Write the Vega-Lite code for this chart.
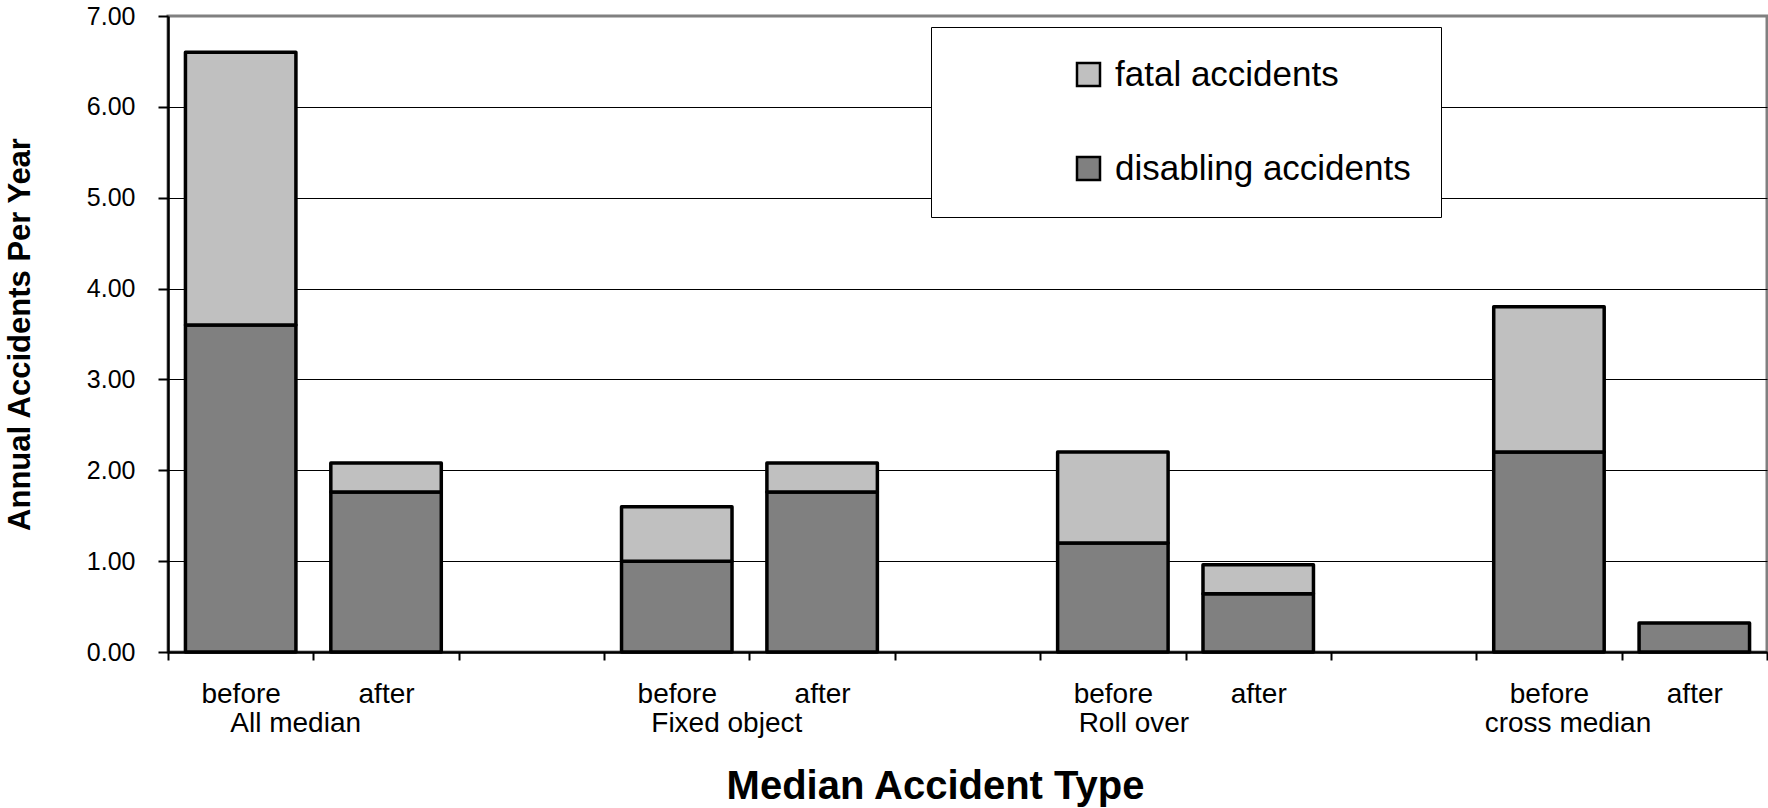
{
  "$schema": "https://vega.github.io/schema/vega-lite/v6.json",
  "width": 1599,
  "height": 636,
  "autosize": {"type": "none"},
  "padding": {"left": 168, "top": 16, "right": 1, "bottom": 156},
  "background": "white",
  "config": {
    "font": "Liberation Sans",
    "view": {"stroke": "#808080", "strokeWidth": 3},
    "axis": {
      "labelFont": "Liberation Sans",
      "titleFont": "Liberation Sans",
      "labelColor": "black",
      "titleColor": "black",
      "domainColor": "black",
      "tickColor": "black"
    }
  },
  "datasets": {
    "bars": [
      {"slot": "All median|before", "group": "All median", "period": "before", "type": "disabling accidents", "value": 3.6},
      {"slot": "All median|before", "group": "All median", "period": "before", "type": "fatal accidents", "value": 3.0},
      {"slot": "All median|after", "group": "All median", "period": "after", "type": "disabling accidents", "value": 1.76},
      {"slot": "All median|after", "group": "All median", "period": "after", "type": "fatal accidents", "value": 0.32},
      {"slot": "Fixed object|before", "group": "Fixed object", "period": "before", "type": "disabling accidents", "value": 1.0},
      {"slot": "Fixed object|before", "group": "Fixed object", "period": "before", "type": "fatal accidents", "value": 0.6},
      {"slot": "Fixed object|after", "group": "Fixed object", "period": "after", "type": "disabling accidents", "value": 1.76},
      {"slot": "Fixed object|after", "group": "Fixed object", "period": "after", "type": "fatal accidents", "value": 0.32},
      {"slot": "Roll over|before", "group": "Roll over", "period": "before", "type": "disabling accidents", "value": 1.2},
      {"slot": "Roll over|before", "group": "Roll over", "period": "before", "type": "fatal accidents", "value": 1.0},
      {"slot": "Roll over|after", "group": "Roll over", "period": "after", "type": "disabling accidents", "value": 0.64},
      {"slot": "Roll over|after", "group": "Roll over", "period": "after", "type": "fatal accidents", "value": 0.32},
      {"slot": "cross median|before", "group": "cross median", "period": "before", "type": "disabling accidents", "value": 2.2},
      {"slot": "cross median|before", "group": "cross median", "period": "before", "type": "fatal accidents", "value": 1.6},
      {"slot": "cross median|after", "group": "cross median", "period": "after", "type": "disabling accidents", "value": 0.32}
    ],
    "labels": [
      {"slot": "All median|before", "name": "All median"},
      {"slot": "Fixed object|before", "name": "Fixed object"},
      {"slot": "Roll over|before", "name": "Roll over"},
      {"slot": "cross median|before", "name": "cross median"}
    ]
  },
  "encoding": {
    "x": {
      "field": "slot",
      "type": "ordinal",
      "scale": {
        "domain": ["All median|before", "All median|after", "gap1", "Fixed object|before", "Fixed object|after", "gap2", "Roll over|before", "Roll over|after", "gap3", "cross median|before", "cross median|after"],
        "paddingInner": 0,
        "paddingOuter": 0
      },
      "axis": {
        "title": "Median Accident Type",
        "titleFontSize": 40,
        "titleFontWeight": "bold",
        "titleX": 767,
        "titleY": 146,
        "titleBaseline": "alphabetic",
        "titleAlign": "center",
        "labelExpr": "isString(datum.value) && indexof(datum.value, '|') > 0 ? split(datum.value, '|')[1] : ''",
        "labelAngle": 0,
        "labelFontSize": 28,
        "labelBaseline": "alphabetic",
        "labelPadding": 42,
        "labelLimit": 400,
        "tickBand": "extent",
        "tickSize": 8,
        "tickWidth": 2,
        "domainWidth": 2.5,
        "grid": false
      }
    }
  },
  "layer": [
    {
      "data": {"name": "bars"},
      "mark": {"type": "bar", "stroke": "black", "strokeWidth": 3.5, "strokeJoin": "round", "width": {"band": 0.76}},
      "encoding": {
        "y": {
          "field": "value",
          "type": "quantitative",
          "stack": "zero",
          "scale": {"domain": [0, 7], "nice": false},
          "axis": {
            "title": "Annual Accidents Per Year",
            "values": [0, 1, 2, 3, 4, 5, 6, 7],
            "format": ".2f",
            "grid": true,
            "gridColor": "black",
            "gridWidth": 1.2,
            "gridOpacity": {"condition": {"test": "datum.value >= 7", "value": 0}, "value": 1},
            "tickSize": 10,
            "tickWidth": 2,
            "domainWidth": 2.5,
            "labelFontSize": 25,
            "labelPadding": 23,
            "labelBaseline": "middle",
            "titleFontSize": 31,
            "titleFontWeight": "bold",
            "titleX": -139,
            "titleY": 318,
            "titleAngle": -90,
            "titleBaseline": "alphabetic",
            "titleAlign": "center"
          }
        },
        "color": {
          "field": "type",
          "type": "nominal",
          "scale": {"domain": ["fatal accidents", "disabling accidents"], "range": ["#C0C0C0", "#808080"]},
          "legend": {
            "title": null,
            "orient": "none",
            "legendX": 763,
            "legendY": 11,
            "direction": "vertical",
            "padding": 30,
            "strokeColor": "black",
            "fillColor": "white",
            "symbolType": "square",
            "symbolSize": 529,
            "symbolStrokeColor": "black",
            "symbolStrokeWidth": 2.5,
            "symbolOffset": 110,
            "labelOffset": 9,
            "labelFont": "Liberation Sans",
            "labelFontSize": 35,
            "labelColor": "black",
            "labelLimit": 600,
            "rowPadding": 58
          }
        },
        "order": {"field": "type", "sort": "ascending"}
      }
    },
    {
      "data": {"name": "labels"},
      "transform": [{"filter": "datum.name === 'All median'"}],
      "mark": {"type": "text", "dx": 55, "dy": 80, "baseline": "alphabetic", "align": "center", "fontSize": 28, "font": "Liberation Sans", "color": "black"},
      "encoding": {"y": {"datum": 0, "type": "quantitative"}, "text": {"field": "name"}}
    },
    {
      "data": {"name": "labels"},
      "transform": [{"filter": "datum.name === 'Fixed object'"}],
      "mark": {"type": "text", "dx": 50, "dy": 80, "baseline": "alphabetic", "align": "center", "fontSize": 28, "font": "Liberation Sans", "color": "black"},
      "encoding": {"y": {"datum": 0, "type": "quantitative"}, "text": {"field": "name"}}
    },
    {
      "data": {"name": "labels"},
      "transform": [{"filter": "datum.name === 'Roll over'"}],
      "mark": {"type": "text", "dx": 21, "dy": 80, "baseline": "alphabetic", "align": "center", "fontSize": 28, "font": "Liberation Sans", "color": "black"},
      "encoding": {"y": {"datum": 0, "type": "quantitative"}, "text": {"field": "name"}}
    },
    {
      "data": {"name": "labels"},
      "transform": [{"filter": "datum.name === 'cross median'"}],
      "mark": {"type": "text", "dx": 19, "dy": 80, "baseline": "alphabetic", "align": "center", "fontSize": 28, "font": "Liberation Sans", "color": "black"},
      "encoding": {"y": {"datum": 0, "type": "quantitative"}, "text": {"field": "name"}}
    }
  ]
}
